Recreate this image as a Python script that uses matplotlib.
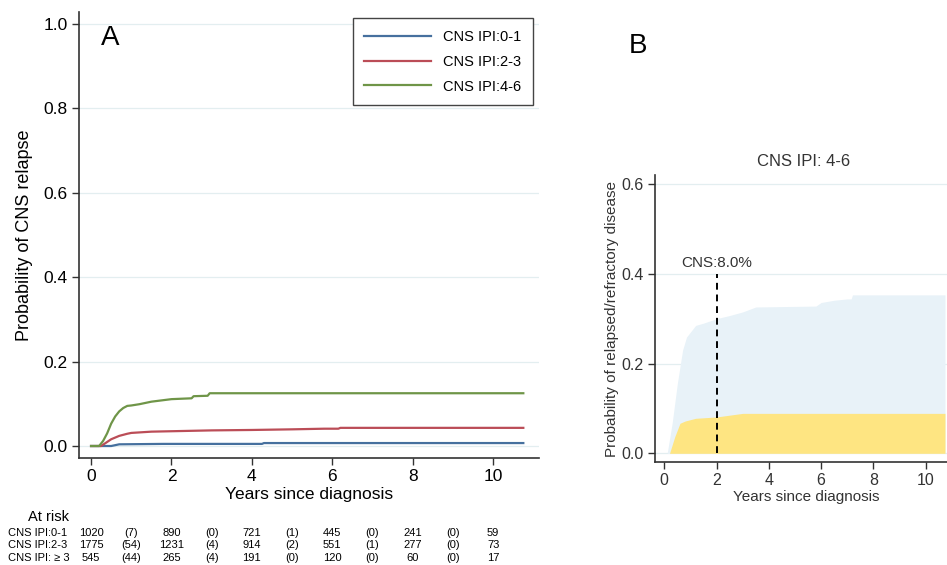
import matplotlib

matplotlib.use("Agg")
import matplotlib.pyplot as plt
import matplotlib.transforms as mtransforms

plt.rcParams["font.family"] = ["Liberation Sans", "DejaVu Sans"]

# --- panel A: cumulative incidence by CNS IPI group ---
low_t = [0, 0.5, 0.7, 1.8, 4.25, 4.3, 10.75]
low_p = [0, 0, 0.004, 0.005, 0.005, 0.007, 0.007]

mid_t = [0, 0.25, 0.5, 0.7, 0.9, 1.0, 1.5, 2.0, 3.0, 4.0, 5.0, 5.8, 6.15, 6.2, 10.75]
mid_p = [0, 0, 0.016, 0.024, 0.029, 0.031, 0.034, 0.035, 0.037, 0.038, 0.0395, 0.041, 0.041, 0.043, 0.043]

high_t = [0, 0.2, 0.3, 0.4, 0.5, 0.6, 0.7, 0.8, 0.9, 1.0, 1.2, 1.5, 2.0, 2.5, 2.55, 2.9, 2.95, 10.75]
high_p = [0, 0, 0.012, 0.030, 0.053, 0.070, 0.082, 0.090, 0.095, 0.096, 0.099, 0.105, 0.111, 0.113, 0.118, 0.119, 0.125, 0.125]

group_labels = ["CNS IPI:0-1", "CNS IPI:2-3", "CNS IPI:4-6"]

# at-risk table
risk_rows = ["CNS IPI:0-1", "CNS IPI:2-3", "CNS IPI: \u2265 3"]
risk_years = [0, 2, 4, 6, 8, 10]
risk_n = [
    [1020, 890, 721, 445, 241, 59],
    [1775, 1231, 914, 551, 277, 73],
    [545, 265, 191, 120, 60, 17],
]
censor_years = [1, 3, 5, 7, 9]
censor_n = [
    [7, 0, 1, 0, 0],
    [54, 4, 2, 1, 0],
    [44, 4, 0, 0, 0],
]

# --- panel B: CNS IPI 4-6, stacked incidence ---
any_t = [0.11, 0.3, 0.5, 0.7, 0.85, 1.2, 1.5, 2.0, 2.5, 3.0, 3.5, 5.8, 6.0, 6.5, 7.0, 7.15, 7.2, 10.74]
any_p = [0, 0.067, 0.156, 0.23, 0.259, 0.285, 0.29, 0.30, 0.307, 0.315, 0.326, 0.328, 0.336, 0.341, 0.344, 0.344, 0.353, 0.353]

cns_t = [0.2, 0.4, 0.6, 0.8, 1.2, 2.0, 2.5, 3.0, 10.74]
cns_p = [0, 0.037, 0.067, 0.072, 0.078, 0.081, 0.085, 0.089, 0.089]

cns_mark_year = 2
cns_mark_value = 0.080

W, H = 947, 565
fig = plt.figure(figsize=(W / 100, H / 100), dpi=100)


def px_axes(left, top, right, bottom):
    return fig.add_axes([left / W, 1 - bottom / H, (right - left) / W, (bottom - top) / H])


spine_col = "#333333"
grid_col = "#e3eef0"

# ---------------- panel A ----------------
ax = px_axes(79, 12, 539, 458)
ax.set_xlim(-0.30, 11.14)
ax.set_ylim(-0.0284, 1.028)
colors = ["#46709e", "#bb4d57", "#6f9548"]
for t, p, c, lab in zip([low_t, mid_t, high_t], [low_p, mid_p, high_p], colors, group_labels):
    ax.plot(t, p, color=c, linewidth=1.6, label=lab)

ax.set_xticks(range(0, 11, 2))
ax.set_yticks([0, 0.2, 0.4, 0.6, 0.8, 1.0])
ax.set_yticklabels(["0.0", "0.2", "0.4", "0.6", "0.8", "1.0"])
ax.tick_params(labelsize=12.5, length=5, width=1, color=spine_col, direction="out", pad=3)
ax.grid(axis="y", color=grid_col, linewidth=0.9)
ax.set_axisbelow(True)
for s in ["top", "right"]:
    ax.spines[s].set_visible(False)
for s in ["left", "bottom"]:
    ax.spines[s].set_color(spine_col)
    ax.spines[s].set_linewidth(1.2)
ax.set_ylabel("Probability of CNS relapse", fontsize=13, labelpad=8)
ax.set_xlabel("Years since diagnosis", fontsize=12.5, labelpad=2)

leg = ax.legend(loc="upper right", bbox_to_anchor=(533 / W, 1 - 18 / H), bbox_transform=fig.transFigure,
                borderaxespad=0, fontsize=10.5, handlelength=4.6, labelspacing=0.75, handletextpad=0.8,
                borderpad=0.8, fancybox=False, framealpha=1)
leg.get_frame().set_edgecolor("#444444")
leg.get_frame().set_linewidth(1.0)

fig.text(110 / W, 1 - 38 / H, "A", fontsize=20, ha="center", va="center")

# at-risk table under panel A
tr = mtransforms.blended_transform_factory(ax.transData, fig.transFigure)
fig.text(48 / W, 1 - 517 / H, "At risk", fontsize=10.5, ha="center", va="center")
row_y = [533, 545.5, 558]
for i, name in enumerate(risk_rows):
    y = 1 - row_y[i] / H
    fig.text(8 / W, y, name, fontsize=8, ha="left", va="center")
    for yr, n in zip(risk_years, risk_n[i]):
        ax.text(yr, y, str(n), fontsize=8, ha="center", va="center", transform=tr)
    for yr, n in zip(censor_years, censor_n[i]):
        ax.text(yr, y, f"({n})", fontsize=8, ha="center", va="center", transform=tr)

# ---------------- panel B ----------------
bx = px_axes(655, 175, 957, 462.3)
bx.set_xlim(-0.356, 11.2)
bx.set_ylim(-0.02, 0.62)
bx.fill_between(any_t, 0, any_p, color="#e8f2f8", linewidth=0)
bx.fill_between(cns_t, 0, cns_p, color="#fee582", linewidth=0)
bx.plot([cns_mark_year, cns_mark_year], [0, 0.4], color="black", linestyle=(0, (3.5, 2.5)), linewidth=1.4)
bx.text(cns_mark_year, 0.408, f"CNS:{cns_mark_value * 100:.1f}%", fontsize=11, ha="center", va="bottom",
        color="#333333")

bx.set_xticks(range(0, 11, 2))
bx.set_yticks([0, 0.2, 0.4, 0.6])
bx.set_yticklabels(["0.0", "0.2", "0.4", "0.6"])
bx.tick_params(labelsize=11.5, length=5, width=1, color=spine_col, labelcolor="#333333", direction="out", pad=3)
bx.grid(axis="y", color=grid_col, linewidth=0.9)
bx.set_axisbelow(True)
for s in ["top", "right"]:
    bx.spines[s].set_visible(False)
for s in ["left", "bottom"]:
    bx.spines[s].set_color(spine_col)
    bx.spines[s].set_linewidth(1.2)
bx.set_ylabel("Probability of relapsed/refractory disease", fontsize=11, color="#333333", labelpad=2)
bx.set_xlabel("Years since diagnosis", fontsize=11, color="#333333", labelpad=1)
fig.text(804 / W, 1 - 162 / H, "CNS IPI: 4-6", fontsize=12, ha="center", va="center", color="#333333")

fig.text(638 / W, 1 - 46 / H, "B", fontsize=20, ha="center", va="center")

fig.savefig("out.png", dpi=100)
